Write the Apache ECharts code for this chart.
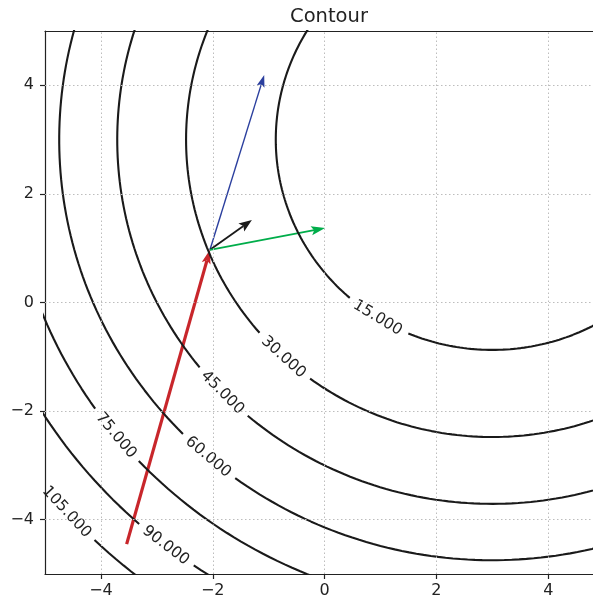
<!DOCTYPE html>
<html>
<head>
<meta charset="utf-8">
<title>Contour</title>
<script src="https://cdn.jsdelivr.net/npm/echarts@6/dist/echarts.min.js"></script>
<style>
  html, body { margin: 0; padding: 0; background: #fff; }
  #chart { width: 593px; height: 600px; }
</style>
</head>
<body>
<div id="chart"></div>
<script>
// ---- data ----
var xTicks = [-4, -2, 0, 2, 4]
var yTicks = [-4, -2, 0, 2, 4]
var xRange = [-5, 4.8]                               // right side of the plot is cut by the frame
var yRange = [-5, 5]
var center = [3, 3]                                  // centre of the rings
var levels = [15, 30, 45, 60, 75, 90, 105]
var labelAngles = [-122, -133, -136, -131, -141, -128, -138] // where each label sits on its ring (deg)
var arrowFrom = [[-2.05, 0.97], [-2.05, 0.97], [-2.05, 0.97], [-3.54, -4.45]]
var arrowTo = [[-1.08, 4.19], [-1.30, 1.52], [0.01, 1.37], [-2.05, 0.97]]

var arrowColors = ['#2b3f9e', '#1a1a1a', '#00ad4a', '#c8262b']
var arrowWidths = [1.4, 1.8, 1.8, 3.2]
var arrowHeads = [[12, 8], [13, 10], [14, 9], [14, 9]] // length, width in px

var minus = function (v) { return v < 0 ? '\u2212' + Math.abs(v) : String(v) }

// ring for a level, opened up where its label sits
function ringPoints(level, angleDeg, halfGap) {
  var r = Math.sqrt(level)
  var g = halfGap / r
  var a0 = angleDeg * Math.PI / 180 + g
  var a1 = a0 + 2 * Math.PI - 2 * g
  var pts = []
  var n = 360
  for (var i = 0; i <= n; i++) {
    var a = a0 + (a1 - a0) * i / n
    pts.push([center[0] + r * Math.cos(a), center[1] + r * Math.sin(a)])
  }
  return pts
}

var contourSeries = levels.map(function (lv, i) {
  var gap = String(lv).length > 2 ? 0.72 : 0.62
  return {
    type: 'line',
    data: ringPoints(lv, labelAngles[i], gap),
    showSymbol: false,
    symbol: 'none',
    clip: true,
    silent: true,
    animation: false,
    lineStyle: { color: '#1a1a1a', width: 2.1 }
  }
})

var labelData = levels.map(function (lv, i) {
  return [lv, labelAngles[i]]
})

var arrowData = arrowFrom.map(function (p, i) {
  return [p[0], p[1], arrowTo[i][0], arrowTo[i][1], i]
})

// grid lines at the tick values
var gridLines = xTicks.map(function (v) { return { xAxis: v } })
  .concat(yTicks.map(function (v) { return { yAxis: v } }))

var chart = echarts.init(document.getElementById('chart'))

chart.setOption({
  animation: false,
  backgroundColor: '#fff',
  title: {
    text: 'Contour',
    left: 324,
    textAlign: 'center',
    top: 2,
    textStyle: { fontFamily: 'DejaVu Sans', fontSize: 19.5, fontWeight: 'normal', color: '#222' }
  },
  grid: { left: 45, top: 31, right: 0, height: 543, containLabel: false },
  xAxis: [{
    type: 'value',
    min: xRange[0],
    max: xRange[1],
    axisLine: { show: true, onZero: false, lineStyle: { color: '#222', width: 1.2 } },
    axisTick: { show: true, inside: false, length: 5, customValues: xTicks, lineStyle: { color: '#222', width: 1.2 } },
    axisLabel: {
      customValues: xTicks,
      formatter: minus,
      margin: 9,
      fontFamily: 'DejaVu Sans',
      fontSize: 16,
      color: '#222'
    },
    splitLine: { show: false }
  }, {
    type: 'value',
    position: 'top',
    min: xRange[0],
    max: xRange[1],
    axisLine: { show: true, onZero: false, lineStyle: { color: '#222', width: 1.2 } },
    axisTick: { show: false },
    axisLabel: { show: false },
    splitLine: { show: false }
  }],
  yAxis: {
    type: 'value',
    min: yRange[0],
    max: yRange[1],
    axisLine: { show: true, onZero: false, lineStyle: { color: '#222', width: 1.2 } },
    axisTick: { show: true, inside: false, length: 5, customValues: yTicks, lineStyle: { color: '#222', width: 1.2 } },
    axisLabel: {
      customValues: yTicks,
      formatter: minus,
      margin: 11,
      fontFamily: 'DejaVu Sans',
      fontSize: 16,
      color: '#222'
    },
    splitLine: { show: false }
  },
  series: [{
    // dotted grid
    type: 'line',
    data: [],
    silent: true,
    markLine: {
      silent: true,
      symbol: 'none',
      label: { show: false },
      lineStyle: { color: '#bdbdbd', width: 1, type: [1.5, 2.5] },
      data: gridLines
    }
  }].concat(contourSeries).concat([{
    // contour labels
    type: 'custom',
    data: labelData,
    clip: false,
    silent: true,
    renderItem: function (params, api) {
      var lv = api.value(0)
      var ang = api.value(1) * Math.PI / 180
      var r = Math.sqrt(lv)
      var at = function (a) { return api.coord([center[0] + r * Math.cos(a), center[1] + r * Math.sin(a)]) }
      var p = at(ang)
      var p1 = at(ang - 0.01)
      var p2 = at(ang + 0.01)
      var rot = Math.atan2(-(p2[1] - p1[1]), p2[0] - p1[0])
      if (rot > Math.PI / 2) rot -= Math.PI
      if (rot < -Math.PI / 2) rot += Math.PI
      return {
        type: 'text',
        x: p[0],
        y: p[1],
        rotation: rot,
        style: {
          text: lv.toFixed(3),
          align: 'center',
          verticalAlign: 'middle',
          fontFamily: 'DejaVu Sans',
          fontSize: 15.5,
          fill: '#222'
        }
      }
    }
  }, {
    // arrows
    type: 'custom',
    data: arrowData,
    clip: false,
    silent: true,
    renderItem: function (params, api) {
      var i = api.value(4)
      var a = api.coord([api.value(0), api.value(1)])
      var b = api.coord([api.value(2), api.value(3)])
      var dx = b[0] - a[0], dy = b[1] - a[1]
      var len = Math.sqrt(dx * dx + dy * dy)
      var ux = dx / len, uy = dy / len
      var hl = arrowHeads[i][0], hw = arrowHeads[i][1] / 2
      var base = [b[0] - ux * hl, b[1] - uy * hl]
      var notch = [b[0] - ux * hl * 0.8, b[1] - uy * hl * 0.8]
      return {
        type: 'group',
        children: [{
          type: 'line',
          shape: { x1: a[0], y1: a[1], x2: notch[0], y2: notch[1] },
          style: { stroke: arrowColors[i], lineWidth: arrowWidths[i] }
        }, {
          type: 'polygon',
          shape: {
            points: [
              b,
              [base[0] - uy * hw, base[1] + ux * hw],
              notch,
              [base[0] + uy * hw, base[1] - ux * hw]
            ]
          },
          style: { fill: arrowColors[i] }
        }]
      }
    }
  }])
})
</script>
</body>
</html>
